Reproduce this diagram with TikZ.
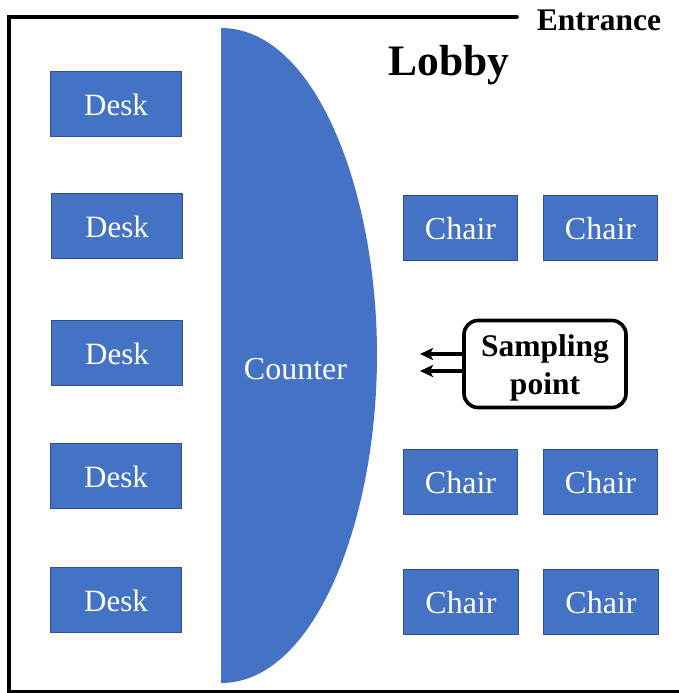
\documentclass[tikz,border=0pt]{standalone}
\usepackage{fontspec}
\setmainfont{Liberation Serif}
\usetikzlibrary{arrows.meta}
\definecolor{boxblue}{RGB}{68,114,196}
\definecolor{boxedge}{RGB}{47,82,143}
\tikzset{
  x=1pt,y=-1pt,
  room/.style={line width=3.6pt,black,line cap=round,line join=miter},
  bluebox/.style={draw=boxedge,line width=0.7pt,fill=boxblue,text=white,minimum width=131.5pt,minimum height=65pt,inner sep=0pt,text height=23pt,text depth=0pt,font=\fontsize{31}{35}\selectfont},
  chairbox/.style={bluebox,minimum width=114.5pt,text height=23pt,font=\fontsize{32}{36}\selectfont},
  callout/.style={draw=black,line width=3.6pt,rounded corners=14pt,fill=white,minimum width=162pt,minimum height=87pt,inner sep=0pt,align=center,font=\fontsize{31.5}{38}\selectfont\bfseries},
  arrowline/.style={line width=3.6pt,-{Stealth[length=13pt,width=12pt,inset=3pt]}},
}
\begin{document}
\begin{tikzpicture}
\useasboundingbox (0,0) rectangle (678,693);
\draw[room] (517,17) -- (9,17) -- (9,691.5) -- (680,691.5);
\fill[boxblue] (221,28) .. controls (315,28) and (377,190) .. (377,355) .. controls (377,520) and (315,683) .. (221,683) -- cycle;
\node[text=white,font=\fontsize{32}{36}\selectfont] (counter) at (295.5,369.5) {Counter};
\node[bluebox] (d1) at (116,104) {Desk};
\node[bluebox] (d2) at (117,226) {Desk};
\node[bluebox] (d3) at (117,353) {Desk};
\node[bluebox] (d4) at (116,476) {Desk};
\node[bluebox] (d5) at (116,600) {Desk};
\node[chairbox] (c1) at (460.5,227.5) {Chair};
\node[chairbox] (c2) at (600.5,227.5) {Chair};
\node[chairbox] (c3) at (460.5,482) {Chair};
\node[chairbox] (c4) at (600.5,482) {Chair};
\node[chairbox] (c5) at (461,602) {Chair};
\node[chairbox] (c6) at (601,602) {Chair};
\node[callout] (sp) at (545,364) {\rule{0pt}{29.4pt}Sampling\\point};
\coordinate (a1) at (420,354);
\coordinate (a2) at (420,371);
\draw[arrowline] (sp.west |- a1) -- (a1);
\draw[arrowline] (sp.west |- a2) -- (a2);
\node[font=\fontsize{31.5}{36}\selectfont\bfseries] (ent) at (599,20) {Entrance};
\node[font=\fontsize{43.5}{48}\selectfont\bfseries] (lobby) at (449,65.5) {Lobby};
\end{tikzpicture}
\end{document}
